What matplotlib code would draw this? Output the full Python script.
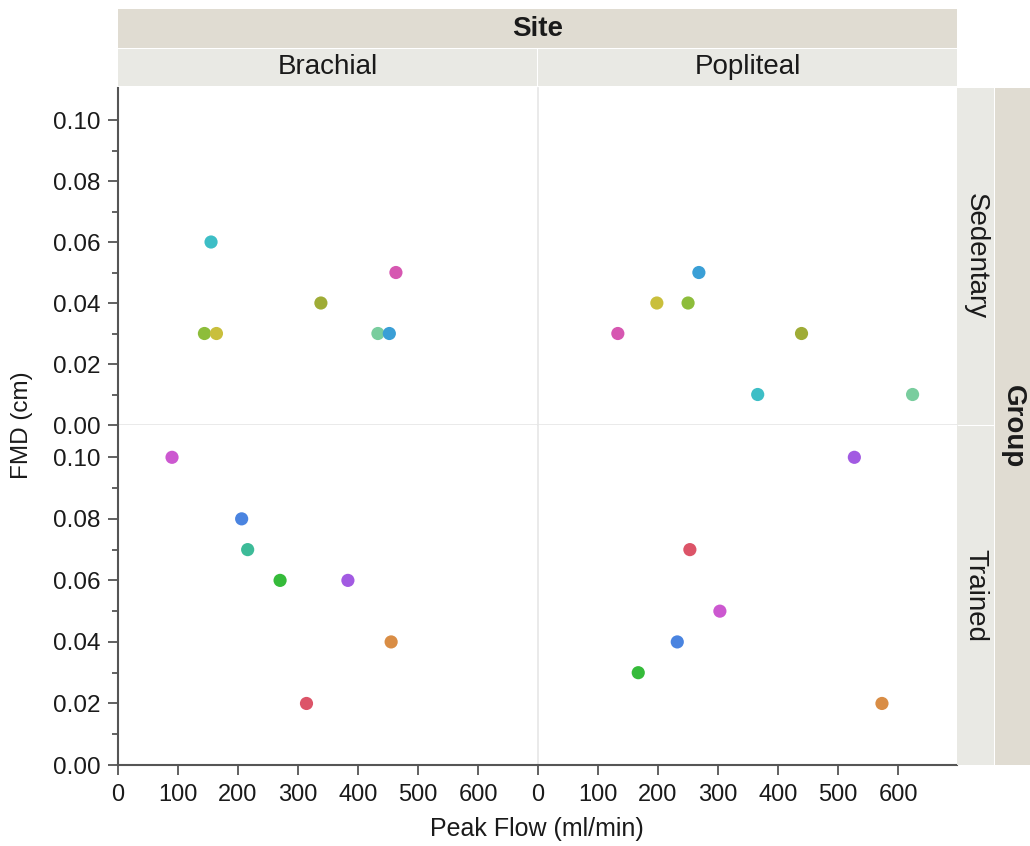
import numpy as np
import matplotlib
matplotlib.use("Agg")
import matplotlib.pyplot as plt
from matplotlib.ticker import MultipleLocator, FixedLocator, FormatStrFormatter

# figure size in pixels
W, H = 1030, 846

sites = ["Brachial", "Popliteal"]
groups = ["Sedentary", "Trained"]

# Sedentary subjects (one colour per subject)
sed_colors = ["#3dbec6", "#d657b1", "#9fac36", "#8dbd3b", "#c9bf3c", "#79cd9e", "#3a9fd6"]
sed_brachial_flow = [155, 463, 338, 144, 164, 433, 452]
sed_brachial_fmd = [0.06, 0.05, 0.04, 0.03, 0.03, 0.03, 0.03]
sed_popliteal_flow = [366, 133, 439, 250, 198, 624, 268]
sed_popliteal_fmd = [0.01, 0.03, 0.03, 0.04, 0.04, 0.01, 0.05]

# Trained subjects
tr_colors = ["#cc58d0", "#4a84e0", "#3dbb98", "#35bb3a", "#a25ae2", "#d98d45", "#dc5468"]
tr_brachial_flow = [90, 206, 216, 270, 383, 455, 314]
tr_brachial_fmd = [0.10, 0.08, 0.07, 0.06, 0.06, 0.04, 0.02]
tr_popliteal_flow = [303, 232, np.nan, 167, 527, 573, 253]
tr_popliteal_fmd = [0.05, 0.04, np.nan, 0.03, 0.10, 0.02, 0.07]

panels = {
    ("Sedentary", "Brachial"): (sed_brachial_flow, sed_brachial_fmd, sed_colors),
    ("Sedentary", "Popliteal"): (sed_popliteal_flow, sed_popliteal_fmd, sed_colors),
    ("Trained", "Brachial"): (tr_brachial_flow, tr_brachial_fmd, tr_colors),
    ("Trained", "Popliteal"): (tr_popliteal_flow, tr_popliteal_fmd, tr_colors),
}

plt.rcParams['font.family'] = ['Liberation Sans', 'DejaVu Sans']

fig = plt.figure(figsize=(W / 100, H / 100), dpi=100)

DARK = "#555555"
LIGHT = "#e6e6e6"
TEXT = "#1a1a1a"
STRIP_DARK = "#e0dcd2"
STRIP_LIGHT = "#e9e9e4"


def px_axes(x0, y0, x1, y1, **kw):
    return fig.add_axes([x0 / W, 1 - y1 / H, (x1 - x0) / W, (y1 - y0) / H], **kw)


def strip(x0, y0, x1, y1, color, text, rotation=0, weight="normal"):
    ax = px_axes(x0, y0, x1, y1)
    ax.set_facecolor(color)
    ax.set_xticks([])
    ax.set_yticks([])
    for s in ax.spines.values():
        s.set_visible(False)
    ax.text(0.5, 0.5, text, transform=ax.transAxes, ha="center", va="center",
            fontsize=20, rotation=rotation, fontweight=weight, color=TEXT)
    return ax


cols = [(118, 537), (538, 957)]
rows = [(88, 425), (425, 765)]

for r, group in enumerate(groups):
    for c, site in enumerate(sites):
        x0, x1 = cols[c]
        y0, y1 = rows[r]
        ax = px_axes(x0, y0, x1, y1)
        flow, fmd, colors = panels[(group, site)]
        ax.scatter(flow, fmd, c=colors, s=90, linewidths=0, zorder=3, clip_on=False)
        ax.set_xlim(0, 698)
        ax.set_ylim(0, 0.1105)
        for s in ["top", "right"]:
            ax.spines[s].set_visible(False)
        # left spine
        if c == 0:
            ax.spines["left"].set_color(DARK)
            ax.spines["left"].set_linewidth(1.5)
            ax.yaxis.set_major_locator(MultipleLocator(0.02))
            ax.yaxis.set_minor_locator(FixedLocator([0.01, 0.03, 0.05, 0.07, 0.09]))
            ax.yaxis.set_major_formatter(FormatStrFormatter("%.2f"))
            ax.tick_params(axis="y", which="major", length=7, width=1.3, color=DARK,
                           labelsize=17.5, labelcolor=TEXT, pad=5.5)
            ax.tick_params(axis="y", which="minor", length=4, width=1.3, color=DARK)
        else:
            ax.spines["left"].set_color(LIGHT)
            ax.spines["left"].set_linewidth(1.2)
            ax.set_yticks([])
        # bottom spine
        if r == 1:
            ax.spines["bottom"].set_color(DARK)
            ax.spines["bottom"].set_linewidth(1.5)
            ax.set_xticks(np.arange(0, 700, 100))
            ax.tick_params(axis="x", which="major", length=7.5, width=1.3, color=DARK,
                           labelsize=17, labelcolor=TEXT, pad=6)
        else:
            ax.spines["bottom"].set_color(LIGHT)
            ax.spines["bottom"].set_linewidth(1.2)
            ax.set_xticks([])

# strips on top
strip(118, 9, 957, 48, STRIP_DARK, "Site", weight="bold")
strip(118, 49, 537, 86, STRIP_LIGHT, sites[0])
strip(538, 49, 957, 86, STRIP_LIGHT, sites[1])

# strips on the right
strip(957, 88, 994, 425, STRIP_LIGHT, groups[0], rotation=-90)
strip(957, 426, 994, 765, STRIP_LIGHT, groups[1], rotation=-90)
strip(995, 88, 1030, 765, STRIP_DARK, "Group", rotation=-90, weight="bold")

fig.text(22 / W, 1 - 425 / H, "FMD (cm)", rotation=90, ha="center", va="center",
         fontsize=17.5, color=TEXT)
fig.text(537 / W, 1 - 829 / H, "Peak Flow (ml/min)", ha="center", va="center",
         fontsize=18, color=TEXT)

fig.savefig("out.png", dpi=100)
